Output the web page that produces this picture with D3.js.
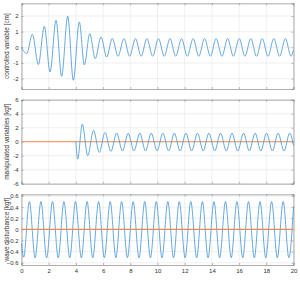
<!DOCTYPE html>
<html><head><meta charset="utf-8">
<script src="https://cdn.jsdelivr.net/npm/d3@7"></script>
<style>body{margin:0;background:#fff}svg{display:block}</style>
</head><body>
<svg id="c" width="300" height="284"></svg>
<script>
// Panel 1: controlled variable [cm] — extremes
const cvT = [0,0.38,0.80,1.24,1.68,2.10,2.54,2.95,3.40,3.81,4.25,4.62,5.02,5.42,5.85,6.26,6.68,
  7.10,7.53,7.95,8.38,8.80,9.22,9.65,10.07,10.50,10.92,11.34,11.77,12.19,12.62,13.04,13.46,13.89,
  14.31,14.74,15.16,15.58,16.01,16.43,16.86,17.28,17.70,18.13,18.55,18.98,19.40,19.82,20.0];
const cvV = [0,-0.40,0.83,-1.10,1.34,-1.57,1.72,-1.85,1.98,-2.10,1.62,-1.12,0.87,-0.72,0.66,-0.62,0.57,
  -0.57,0.56,-0.57,0.56,-0.57,0.56,-0.57,0.56,-0.57,0.56,-0.57,0.56,-0.57,0.56,-0.57,0.56,-0.57,
  0.56,-0.57,0.56,-0.57,0.56,-0.57,0.56,-0.57,0.56,-0.57,0.56,-0.57,0.56,-0.57,-0.15];

// Panel 2: manipulated variables [kgf]
const mvT = [4.00,4.13,4.47,4.87,5.30,5.72,6.14,6.57,7.00,7.42,7.85,8.27,8.70,9.12,9.54,9.97,
  10.39,10.82,11.24,11.66,12.09,12.51,12.94,13.36,13.78,14.21,14.63,15.06,15.48,15.90,16.33,16.75,
  17.18,17.60,18.02,18.45,18.87,19.30,19.72,20.0];
const mvV = [0,-2.50,2.50,-2.00,1.62,-1.53,1.32,-1.38,1.24,-1.32,1.22,-1.32,1.22,-1.32,1.22,-1.32,
  1.22,-1.32,1.22,-1.32,1.22,-1.32,1.22,-1.32,1.22,-1.32,1.22,-1.32,1.22,-1.32,1.22,-1.32,
  1.22,-1.32,1.22,-1.32,1.22,-1.32,1.22,-0.58];
const mv2T = [0,20];
const mv2V = [0,0];

// Panel 3: wave disturbance [kgf]
const wdT = [0,0.16,0.58,1.00,1.43,1.85,2.28,2.70,3.12,3.55,3.97,4.40,4.82,5.24,5.67,6.09,6.52,6.94,
  7.36,7.79,8.21,8.64,9.06,9.48,9.91,10.33,10.76,11.18,11.60,12.03,12.45,12.88,13.30,13.72,14.15,
  14.57,15.00,15.42,15.84,16.27,16.69,17.12,17.54,17.96,18.39,18.81,19.24,19.66,20.0];
const wdV = [-0.25,-0.50,0.50,-0.51,0.50,-0.51,0.50,-0.51,0.50,-0.51,0.50,-0.51,0.50,-0.51,0.50,-0.51,0.50,-0.51,
  0.50,-0.51,0.50,-0.51,0.50,-0.51,0.50,-0.51,0.50,-0.51,0.50,-0.51,0.50,-0.51,0.50,-0.51,0.50,
  -0.51,0.50,-0.51,0.50,-0.51,0.50,-0.51,0.50,-0.51,0.50,-0.51,0.50,-0.51,0.41];
const wd2T = [0,20];
const wd2V = [0,0];

const xTicks = [0,2,4,6,8,10,12,14,16,18,20];
const yTicks1 = [-2,-1,0,1,2];
const yTicks2 = [-6,-4,-2,0,2,4,6];
const yTicks3 = [-0.6,-0.4,-0.2,0,0.2,0.4,0.6];
const yLabels = ["controlled variable [cm]","manipulated variables [kgf]","wave disturbance [kgf]"];

const svg = d3.select("#c");
const X0 = 21.5, X1 = 293.5;
const x = d3.scaleLinear().domain([0,20]).range([X0,X1]);
const BLUE = "#3f93d9", ORANGE = "#f08a55";
const FONT = "Liberation Sans, Arial, sans-serif";

const panels = [
  {top:3.3, bot:89, dom:[-2.66,2.81], ticks:yTicks1, fmt:d=>String(d), label:yLabels[0],
   series:[{t:cvT,v:cvV,c:BLUE,w:0.8}], xlab:false},
  {top:99.7, bot:183.7, dom:[-6,6], ticks:yTicks2, fmt:d=>String(d), label:yLabels[1],
   series:[{t:mv2T,v:mv2V,c:ORANGE,w:1.1},{t:mvT,v:mvV,c:BLUE,w:0.8}], xlab:false},
  {top:194.3, bot:265, dom:[-0.64,0.63], ticks:yTicks3, fmt:d=>d===0?"0":d3.format(".1f")(d), label:yLabels[2],
   series:[{t:wdT,v:wdV,c:BLUE,w:0.8},{t:wd2T,v:wd2V,c:ORANGE,w:1.1}], xlab:true}
];

panels.forEach((p,i)=>{
  const y = d3.scaleLinear().domain(p.dom).range([p.bot,p.top]);
  const g = svg.append("g");
  // grid
  g.append("g").selectAll("line").data(xTicks).join("line")
    .attr("x1",d=>x(d)).attr("x2",d=>x(d)).attr("y1",p.top).attr("y2",p.bot)
    .attr("stroke","#e6e6e6").attr("stroke-width",0.6);
  g.append("g").selectAll("line").data(p.ticks).join("line")
    .attr("x1",X0).attr("x2",X1).attr("y1",d=>y(d)).attr("y2",d=>y(d))
    .attr("stroke","#e6e6e6").attr("stroke-width",0.6);
  // axes (ticks inward)
  const tk = 2;
  const axL = d3.axisLeft(y).tickValues(p.ticks).tickSize(-tk).tickPadding(3).tickFormat(p.fmt);
  const axR = d3.axisRight(y).tickValues(p.ticks).tickSize(-tk).tickFormat("");
  const axB = d3.axisBottom(x).tickValues(xTicks).tickSize(-tk).tickPadding(4).tickFormat(p.xlab?d=>String(d):"");
  const axT = d3.axisTop(x).tickValues(xTicks).tickSize(-tk).tickFormat("");
  [[axL,`translate(${X0},0)`],[axR,`translate(${X1},0)`],[axB,`translate(0,${p.bot})`],[axT,`translate(0,${p.top})`]]
  .forEach(([ax,tr])=>{
    const a = g.append("g").attr("transform",tr).call(ax);
    a.select(".domain").attr("stroke","#8a8a8a").attr("stroke-width",0.7);
    a.selectAll(".tick line").attr("stroke","#8a8a8a").attr("stroke-width",0.6);
    a.selectAll("text").attr("font-family",FONT).attr("font-size",6).attr("fill","#333");
  });
  // series (drawn last)
  const line = d3.line().x(d=>x(d[0])).y(d=>y(d[1])).curve(d3.curveMonotoneX);
  p.series.forEach(s=>{
    const pts = s.t.map((t,k)=>[t,s.v[k]]);
    g.append("path").attr("d",line(pts)).attr("fill","none")
      .attr("stroke",s.c).attr("stroke-width",s.w);
  });
  // y label
  svg.append("text").attr("transform",`translate(9,${(p.top+p.bot)/2}) rotate(-90)`)
    .attr("text-anchor","middle").attr("font-family",FONT).attr("font-size",6.4).attr("fill","#333")
    .text(p.label);
});
</script>
</body></html>
